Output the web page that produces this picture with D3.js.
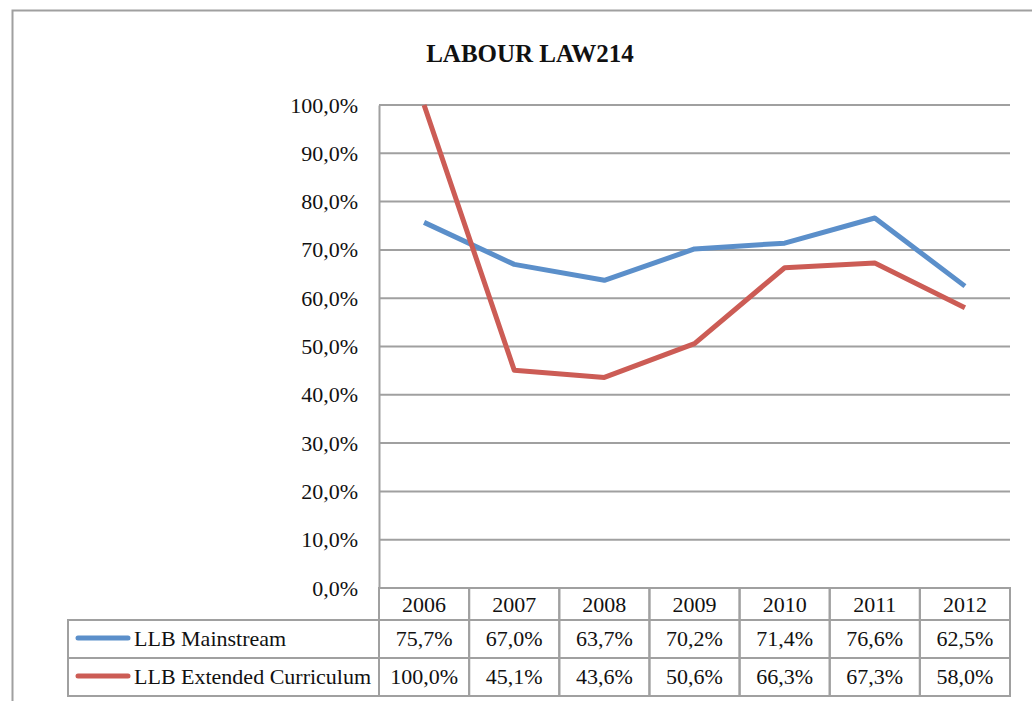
<!DOCTYPE html>
<html>
<head>
<meta charset="utf-8">
<script src="https://cdn.jsdelivr.net/npm/d3@7"></script>
<style>
  body { margin: 0; background: #fff; }
  svg { display: block; }
  text { font-family: "Liberation Serif", "DejaVu Serif", serif; fill: #111; }
</style>
</head>
<body>
<svg id="chart"></svg>
<script>
const title = "LABOUR LAW214";
const years = ["2006", "2007", "2008", "2009", "2010", "2011", "2012"];
const mainstream = [75.7, 67.0, 63.7, 70.2, 71.4, 76.6, 62.5];
const extended = [100.0, 45.1, 43.6, 50.6, 66.3, 67.3, 58.0];
const seriesNames = ["LLB Mainstream", "LLB Extended Curriculum"];
const seriesColors = ["#5b8fca", "#cc5c55"];
const yTicks = [0, 10, 20, 30, 40, 50, 60, 70, 80, 90, 100];

const width = 1032, height = 701;
const plot = { left: 379, right: 1010, top: 105, bottom: 588 };
const rowH = 38;

const fmt = v => v.toFixed(1).replace(".", ",") + "%";

const svg = d3.select("#chart").attr("width", width).attr("height", height);

// outer frame
svg.append("rect")
  .attr("x", 12.5).attr("y", 10.5)
  .attr("width", 1040).attr("height", 720)
  .attr("fill", "none").attr("stroke", "#a0a0a0").attr("stroke-width", 2);

svg.append("text")
  .attr("x", 530).attr("y", 62)
  .attr("text-anchor", "middle")
  .attr("font-size", 25).attr("font-weight", "bold")
  .text(title);

const x = d3.scaleBand().domain(years).range([plot.left, plot.right]);
const y = d3.scaleLinear().domain([0, 100]).range([plot.bottom, plot.top]);

// gridlines
svg.append("g")
  .selectAll("line")
  .data(yTicks)
  .enter().append("line")
  .attr("x1", plot.left).attr("x2", plot.right)
  .attr("y1", d => y(d)).attr("y2", d => y(d))
  .attr("stroke", "#a0a0a0").attr("stroke-width", 2);

// y axis
const yAxis = svg.append("g")
  .attr("transform", `translate(${plot.left},0)`)
  .call(d3.axisLeft(y).tickValues(yTicks).tickSize(0).tickPadding(21).tickFormat(fmt));
yAxis.select(".domain").attr("stroke", "#a0a0a0").attr("stroke-width", 2);
yAxis.selectAll("text")
  .attr("font-size", 22)
  .attr("font-family", "Liberation Serif, DejaVu Serif, serif")
  .attr("fill", "#111");

// lines
const line = d3.line()
  .x((d, i) => x(years[i]) + x.bandwidth() / 2)
  .y(d => y(d));

[mainstream, extended].forEach((vals, i) => {
  svg.append("path")
    .datum(vals)
    .attr("d", line)
    .attr("fill", "none")
    .attr("stroke", seriesColors[i])
    .attr("stroke-width", 5)
    .attr("stroke-linejoin", "round");
});

// data table
const table = svg.append("g").attr("stroke", "#a0a0a0").attr("stroke-width", 2);
const legendLeft = 68;

years.forEach(yr => {
  table.append("rect")
    .attr("x", x(yr)).attr("y", plot.bottom)
    .attr("width", x.bandwidth()).attr("height", 32)
    .attr("fill", "none");
});
const rowsTop = plot.bottom + 32;
[mainstream, extended].forEach((vals, r) => {
  const ry = rowsTop + r * rowH;
  table.append("rect")
    .attr("x", legendLeft).attr("y", ry)
    .attr("width", plot.left - legendLeft).attr("height", rowH)
    .attr("fill", "none");
  years.forEach(yr => {
    table.append("rect")
      .attr("x", x(yr)).attr("y", ry)
      .attr("width", x.bandwidth()).attr("height", rowH)
      .attr("fill", "none");
  });
});

svg.append("g").selectAll("text")
  .data(years)
  .enter().append("text")
  .attr("x", d => x(d) + x.bandwidth() / 2)
  .attr("y", plot.bottom + 24)
  .attr("text-anchor", "middle")
  .attr("font-size", 22)
  .text(d => d);

[mainstream, extended].forEach((vals, r) => {
  const cy = rowsTop + r * rowH + rowH / 2;
  svg.append("line")
    .attr("x1", 78).attr("x2", 128)
    .attr("y1", cy - 1).attr("y2", cy - 1)
    .attr("stroke", seriesColors[r])
    .attr("stroke-width", 5)
    .attr("stroke-linecap", "round");
  svg.append("text")
    .attr("x", 134).attr("y", cy + 7)
    .attr("font-size", 22)
    .text(seriesNames[r]);
  svg.append("g").selectAll("text")
    .data(vals)
    .enter().append("text")
    .attr("x", (d, i) => x(years[i]) + x.bandwidth() / 2)
    .attr("y", cy + 7)
    .attr("text-anchor", "middle")
    .attr("font-size", 22)
    .text(d => fmt(d));
});
</script>
</body>
</html>
